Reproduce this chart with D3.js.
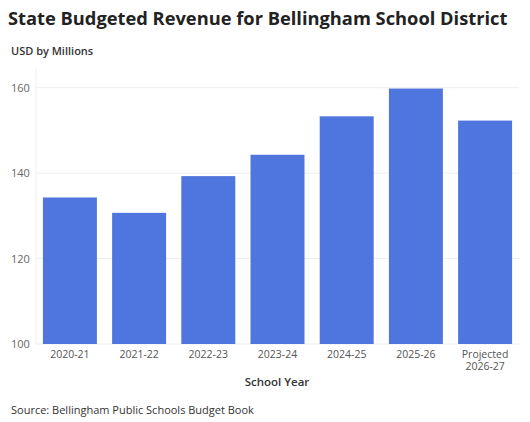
<!DOCTYPE html><html><head><meta charset="utf-8"><script src="https://cdn.jsdelivr.net/npm/d3@7"></script>
<style>body{margin:0;background:#fff}text{font-family:"Open Sans","Noto Sans",sans-serif}</style></head><body><svg width="530" height="422"></svg><script>
const categories=["2020-21","2021-22","2022-23","2023-24","2024-25","2025-26","Projected\n2026-27"];
const values=[134.3,130.7,139.3,144.3,153.3,159.8,152.3];
const yTicks=[100,120,140,160];
const svg=d3.select("svg");
const x=d3.scaleBand().domain(categories).range([36,519]).paddingInner(0.22).paddingOuter(0.1);
const y=d3.scaleLinear().domain([100,160]).range([344,87.7]);
svg.append("text").attr("x",8).attr("y",25).attr("font-size",18.3).attr("font-weight",700).attr("fill","#222").text("State Budgeted Revenue for Bellingham School District");
svg.append("text").attr("x",11).attr("y",55).attr("font-size",11).attr("font-weight",600).attr("fill","#333").text("USD by Millions");
svg.append("line").attr("x1",36).attr("x2",36).attr("y1",68).attr("y2",344).attr("stroke","#eee");
svg.selectAll(".g").data(yTicks).join("line").attr("x1",36).attr("x2",519).attr("y1",d=>y(d)).attr("y2",d=>y(d)).attr("stroke","#eee");
svg.selectAll(".yt").data(yTicks).join("text").attr("x",11).attr("y",d=>y(d)+4).attr("font-size",11).attr("fill","#666").text(d=>d);
svg.selectAll("rect").data(values).join("rect").attr("x",(d,i)=>x(categories[i])).attr("width",x.bandwidth()).attr("y",d=>y(d)).attr("height",d=>y(100)-y(d)).attr("fill","#4f75de");
const xl=svg.selectAll(".xl").data(categories).join("text").attr("text-anchor","middle").attr("font-size",10.5).attr("fill","#555");
xl.each(function(d){const t=d3.select(this);d.split("\n").forEach((s,k)=>t.append("tspan").attr("x",x(d)+x.bandwidth()/2).attr("y",358+k*12).text(s));});
svg.append("text").attr("x",277).attr("y",386).attr("text-anchor","middle").attr("font-size",11.5).attr("font-weight",600).attr("fill","#333").text("School Year");
svg.append("text").attr("x",11).attr("y",414).attr("font-size",11).attr("fill","#333").text("Source: Bellingham Public Schools Budget Book");
</script></body></html>
